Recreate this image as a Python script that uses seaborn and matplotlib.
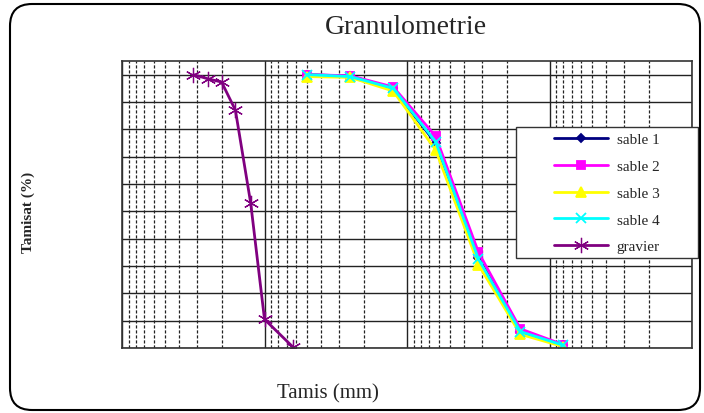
import matplotlib
matplotlib.use("Agg")
import matplotlib.pyplot as plt
import numpy as np
import pandas as pd
import seaborn as sns
from matplotlib.patches import FancyBboxPatch, Rectangle
from matplotlib.ticker import LogLocator, MultipleLocator, NullFormatter

# Sieve openings (mm) and passing percentages
sieves_sand = [5, 2.5, 1.25, 0.63, 0.315, 0.16, 0.08]
sable_1 = [100, 99.5, 95, 75, 33, 6, 1]
sable_2 = [100, 99.6, 95.5, 77.5, 35, 7, 1.2]
sable_3 = [99.3, 99, 94, 72.5, 30.5, 5, 0.5]
sable_4 = [100, 99.3, 95, 75.5, 32.5, 6, 1]

sieves_gravel = [31.5, 25, 20, 16, 12.5, 10, 6.3]
gravier = [100, 98.5, 97.3, 87, 53, 10.5, 0.3]

series_names = ["sable 1", "sable 2", "sable 3", "sable 4", "gravier"]
series_colors = ["#000080", "#FF00FF", "#FFFF00", "#00FFFF", "#800080"]
series_markers = ["D", "s", "^", "x", (6, 2, 0)]
series_msize = [4, 6, 7, 7, 11]
series_mew = [1.3, 1.3, 1.3, 1.3, 0.9]

frames = []
for name, sizes, vals in zip(series_names,
                             [sieves_sand] * 4 + [sieves_gravel],
                             [sable_1, sable_2, sable_3, sable_4, gravier]):
    frames.append(pd.DataFrame({"tamis": sizes, "tamisat": vals, "serie": name}))
df = pd.concat(frames, ignore_index=True)

sns.set_style("white")
plt.rcParams["font.family"] = ["Liberation Serif", "DejaVu Serif"]

fig = plt.figure(figsize=(7.04, 4.14), dpi=100)
ax = fig.add_axes([122 / 704, 1 - 349 / 414, 570 / 704, 287 / 414])
ax.set_xscale("log")

for name, color, marker, ms, mew in zip(series_names, series_colors,
                                        series_markers, series_msize, series_mew):
    sub = df[df["serie"] == name]
    sns.lineplot(data=sub, x="tamis", y="tamisat", ax=ax, color=color,
                 marker=marker, markersize=ms, markeredgecolor=color,
                 markeredgewidth=mew, linewidth=2, label=name,
                 sort=True, legend=False)

ax.set_xlim(100, 0.01)
ax.set_ylim(0, 105)
ax.xaxis.set_major_locator(LogLocator(base=10, numticks=10))
ax.xaxis.set_minor_locator(LogLocator(base=10, subs=np.arange(2, 10), numticks=20))
ax.xaxis.set_minor_formatter(NullFormatter())
ax.yaxis.set_major_locator(MultipleLocator(10))
ax.set_axisbelow(True)
ax.grid(which="major", axis="both", color="#222222", lw=1, ls="-")
ax.grid(which="minor", axis="x", color="#222222", lw=0.9, ls=(0, (2.5, 1.5)))
ax.tick_params(which="both", length=0, labelbottom=False, labelleft=False)
ax.set_xlabel("")
ax.set_ylabel("")
for sp in ax.spines.values():
    sp.set_color("#333333")
    sp.set_linewidth(1.2)

if ax.get_legend() is not None:
    ax.get_legend().remove()
handles, labels = ax.get_legend_handles_labels()

# legend box (Excel style, content centred)
fig.add_artist(Rectangle((516 / 704, 1 - 259 / 414), 182 / 704, 131 / 414,
                         transform=fig.transFigure, fc="white", ec="#333333",
                         lw=1, zorder=4))
leg = fig.legend(handles, labels, loc="center",
                 bbox_to_anchor=(607 / 704, 1 - 194 / 414),
                 frameon=False, fontsize=11, handlelength=3.5,
                 labelspacing=0.85, handletextpad=0.6)
leg.set_zorder(6)

fig.text(406 / 704, 1 - 27 / 414, "Granulometrie", ha="center", va="center",
         fontsize=20)
fig.text(328 / 704, 1 - 394 / 414, "Tamis (mm)", ha="center", va="center",
         fontsize=15)
fig.text(28 / 704, 1 - 212 / 414, "Tamisat (%)", ha="center", va="center",
         rotation=90, fontweight="bold", fontsize=11)

# rounded outer border
border = FancyBboxPatch((0.10, 0.03), 6.90, 4.06,
                        boxstyle="round,pad=0,rounding_size=0.22",
                        transform=fig.dpi_scale_trans, fc="none",
                        ec="black", lw=1.5, zorder=10)
fig.add_artist(border)

fig.savefig("out.png", dpi=100)
